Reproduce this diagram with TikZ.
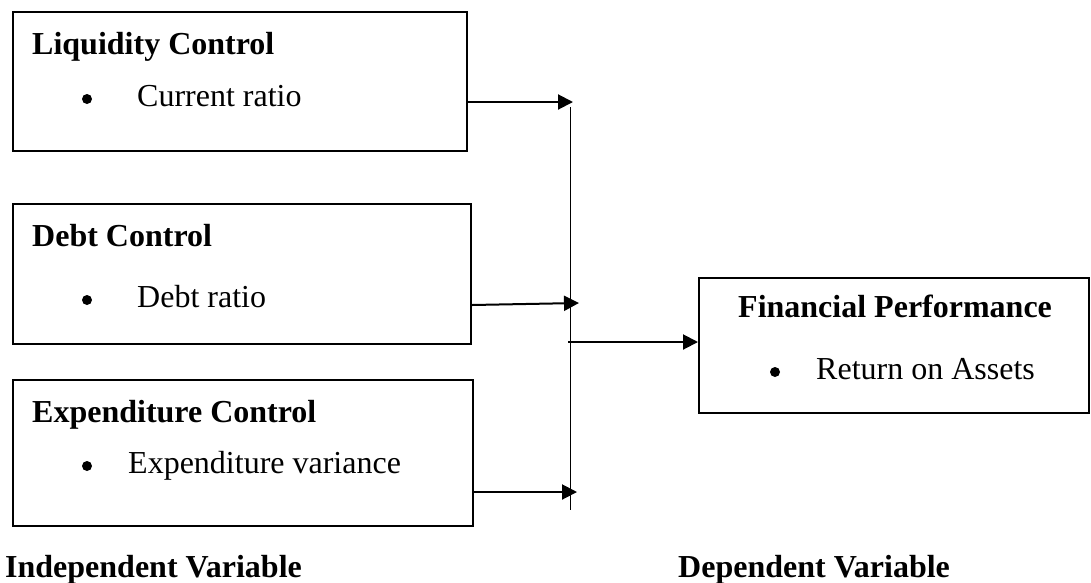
\documentclass[tikz,border=0pt]{standalone}
\usepackage{fontspec}
\setmainfont{Liberation Serif}
\usetikzlibrary{arrows.meta,calc}
\begin{document}
\begin{tikzpicture}[x=1pt,y=-1pt,
  box/.style={draw,line width=2pt,rectangle,anchor=north west,inner sep=0pt},
  ttl/.style={anchor=base west,inner sep=0pt,font=\fontsize{32}{38}\selectfont\bfseries},
  itm/.style={anchor=base west,inner sep=0pt,font=\fontsize{32}{38}\selectfont},
  arr/.style={line width=2pt,-{Triangle[length=15pt,width=15pt]}},
  vline/.style={line width=1pt}]
\useasboundingbox (0,0) rectangle (1091,582);
% boxes
\node[box,minimum width=454pt,minimum height=139pt] (b1) at (12,11) {};
\node[box,minimum width=458pt,minimum height=140pt] (b2) at (12,203) {};
\node[box,minimum width=460pt,minimum height=146pt] (b3) at (12,379) {};
\node[box,minimum width=390pt,minimum height=135pt] (fp) at (698,277) {};
% texts
\node[ttl] (t1) at (32,54) {Liquidity Control};
\fill (87,99) circle (5pt);
\node[itm] (i1) at (137,106) {Current ratio};
\node[ttl] (t2) at (32,246) {Debt Control};
\fill (87,300) circle (5pt);
\node[itm] (i2) at (137,307) {Debt ratio};
\node[ttl] (t3) at (32,422) {Expenditure Control};
\fill (87,466) circle (5pt);
\node[itm] (i3) at (128,473) {Expenditure variance};
\node[ttl] (t4) at (738,317) {Financial Performance};
\fill (775,372) circle (5pt);
\node[itm] (i4) at (816,379) {Return on Assets};
\node[ttl] (l1) at (5,577) {Independent Variable};
\node[ttl] (l2) at (678,577) {Dependent Variable};
% connectors
\coordinate (v1) at (570,107);
\coordinate (v2) at (570,510);
\draw[vline] (v1) -- (v2);
\coordinate (a1) at (573,102);
\draw[arr] (b1.east |- a1) -- (a1);
\coordinate (s2) at (470,305);
\coordinate (a2) at (579,303);
\draw[arr] (b2.east |- s2) -- (a2);
\coordinate (a3) at (577,492);
\draw[arr] (b3.east |- a3) -- (a3);
\coordinate (s4) at (568,342);
\draw[arr] (s4) -- (fp.west |- s4);
\end{tikzpicture}
\end{document}
